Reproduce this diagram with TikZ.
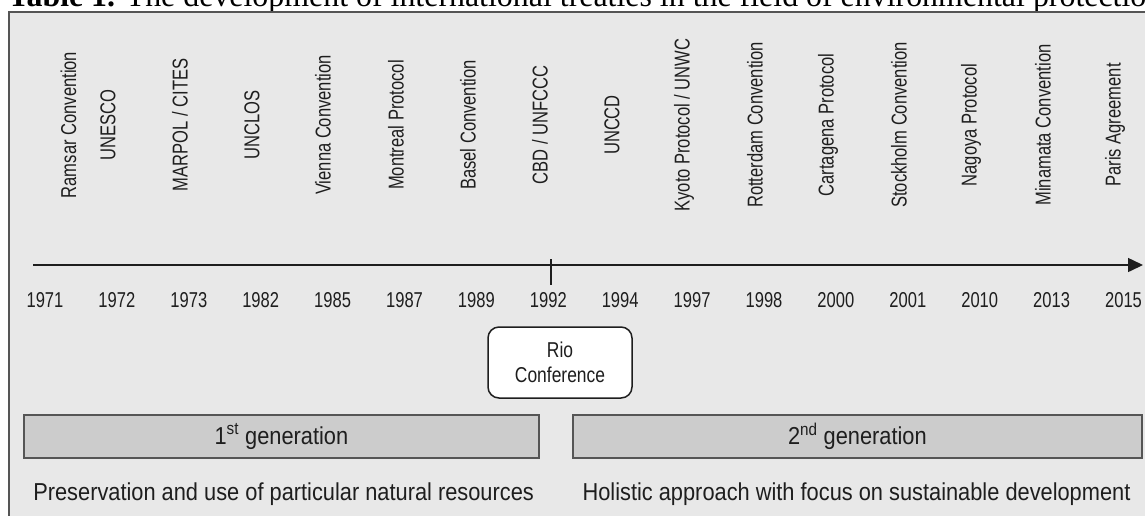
\documentclass[tikz,border=0pt]{standalone}
\usepackage{fontspec}
\setmainfont{Liberation Sans}
\newfontfamily\narrowsf{Liberation Sans}[FakeStretch=0.77]
\newfontfamily\riosf{Liberation Sans}[FakeStretch=0.81]
\newfontfamily\widesf{Liberation Sans}[FakeStretch=0.89]
\newfontfamily\titlefont{Liberation Serif}
\usepackage{tikz}
\usetikzlibrary{arrows.meta,calc,positioning}
\definecolor{panel}{HTML}{E8E8E8}
\definecolor{genfill}{HTML}{CCCCCC}
\definecolor{rim}{HTML}{555555}
\definecolor{ink}{HTML}{1E1E1E}

\begin{document}
\begin{tikzpicture}[x=1pt,y=-1pt,text=ink]
    \tikzstyle{year} = [anchor=base,inner sep=0pt,font=\narrowsf\fontsize{21.5}{24}\selectfont]
    \tikzstyle{treaty} = [rotate=90,inner sep=0pt,font=\narrowsf\fontsize{21.5}{24}\selectfont]
    \tikzstyle{gen} = [draw=rim,line width=1.5pt,fill=genfill,minimum height=43pt,inner sep=0pt,font=\widesf\fontsize{24.5}{27}\selectfont]
    \tikzstyle{aim} = [anchor=base,inner sep=0pt,font=\widesf\fontsize{24.5}{27}\selectfont]
    \useasboundingbox (0,0) rectangle (1145,515);
    \clip (0,0) rectangle (1145,515);
    \fill[white] (0,0) rectangle (1145,515);
    % caption line, cut off at the top
    \node[anchor=base west,inner sep=0pt,font=\titlefont\fontsize{31.9}{34}\selectfont,text=black] (caption) at (8,6)
      {\textbf{Table 1.} The development of international treaties in the field of environmental protection};
    \draw[rim,line width=2pt,fill=panel] (8.5,12) rectangle (1160,530);
    % time axis
    \coordinate (axstart) at (33,265);
    \coordinate (axend) at (1143,265);
    \draw[ink,line width=1.5pt,-{Triangle[length=15pt,width=14pt]}] (axstart) -- (axend);
    \foreach \yr [count=\i from 0] in {1971,1972,1973,1982,1985,1987,1989,1992,1994,1997,1998,2000,2001,2010,2013,2015}
    {
      \node[year] (y\yr) at ({45+71.9*\i},307.7) {\yr};
    }
    \coordinate (rio) at (551,265);
    \draw[ink,line width=1.5pt] ([yshift=6pt]rio) -- ([yshift=-20pt]rio);
    % treaties
    \foreach \xx/\lbl [count=\i] in {68.5/Ramsar Convention,108/UNESCO,180/{MARPOL / CITES},252/UNCLOS,323/Vienna Convention,
      396/Montreal Protocol,468/Basel Convention,540/{CBD / UNFCCC},612/UNCCD,684/{Kyoto Protocol / UNWC},
      755/Rotterdam Convention,828/Cartagena Protocol,899/Stockholm Convention,971/Nagoya Protocol,
      1043/Minamata Convention,1115/Paris Agreement}
    {
      \node[treaty] (t\i) at (\xx,125) {\lbl};
    }
    \node[draw=ink,line width=1.5pt,fill=white,rounded corners=11pt,minimum width=144pt,minimum height=71pt,
      align=center,inner sep=0pt,font=\riosf\fontsize{21.5}{24.5}\selectfont] (rioconf) at (560,362.5) {Rio\\Conference};
    % generations
    \node[gen,minimum width=515pt] (gen1) at (281.4,436.5) {1\textsuperscript{st} generation};
    \node[gen,minimum width=569pt] (gen2) at (857.4,436.5) {2\textsuperscript{nd} generation};
    \node[aim] (aim1) at (283.6,500) {Preservation and use of particular natural resources};
    \node[aim] (aim2) at (856.5,500) {Holistic approach with focus on sustainable development};
\end{tikzpicture}
\end{document}
